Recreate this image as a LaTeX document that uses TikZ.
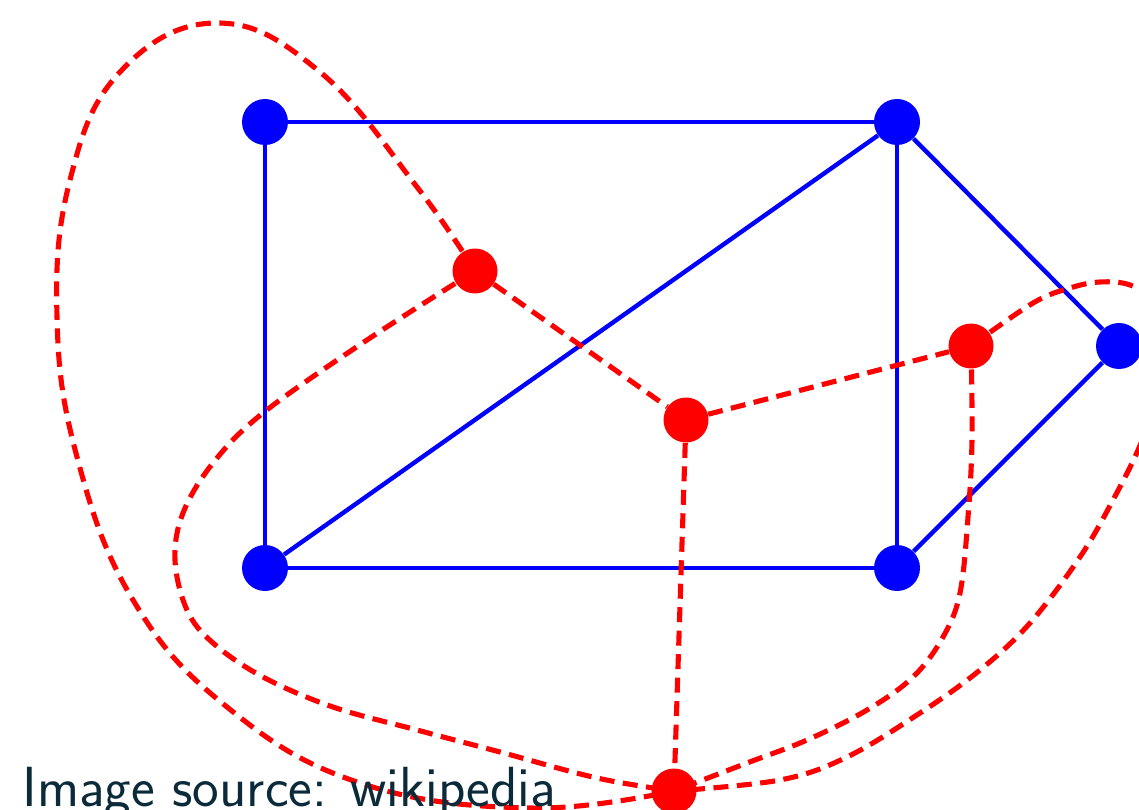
\documentclass[tikz,border=0pt]{standalone}
\usetikzlibrary{backgrounds}
\definecolor{dualGraphNoteColor}{HTML}{0B2A3A}
\begin{document}
\begin{tikzpicture}[
    x=0.02cm, y=-0.02cm,
    dualGraphVertex/.style={circle, fill=blue, inner sep=0pt, minimum size=0.92cm},
    dualGraphEdge/.style={blue, line width=2.5pt},
    dualGraphDualVertex/.style={circle, fill=red, inner sep=0pt, minimum size=0.9cm},
    dualGraphDualEdge/.style={red, line width=2.9pt, dash pattern=on 0.3cm off 0.17cm},
    dualGraphNote/.style={dualGraphNoteColor, anchor=base west, inner sep=0pt,
        font=\sffamily\fontsize{32.2}{38}\selectfont}
]
    \useasboundingbox (0,0) rectangle (1139,810);
    \clip (0,0) rectangle (1139,810);

    % 原图顶点
    \node[dualGraphVertex] (b1) at (265,122) {};
    \node[dualGraphVertex] (b2) at (897,122) {};
    \node[dualGraphVertex] (b3) at (265,568) {};
    \node[dualGraphVertex] (b4) at (897,568) {};
    \node[dualGraphVertex] (b5) at (1119,346) {};

    % 对偶图顶点
    \node[dualGraphDualVertex] (r1) at (475,271) {};
    \node[dualGraphDualVertex] (r2) at (686,420) {};
    \node[dualGraphDualVertex] (r3) at (971,346) {};
    \node[dualGraphDualVertex] (r4) at (674,791) {};

    \begin{scope}[on background layer]
        % 原图的边
        \draw[dualGraphEdge] (b1) -- (b2);
        \draw[dualGraphEdge] (b1) -- (b3);
        \draw[dualGraphEdge] (b3) -- (b4);
        \draw[dualGraphEdge] (b2) -- (b4);
        \draw[dualGraphEdge] (b3) -- (b2);
        \draw[dualGraphEdge] (b2) -- (b5);
        \draw[dualGraphEdge] (b5) -- (b4);

        % 对偶图的边
        \draw[dualGraphDualEdge] (r1) -- (r2);
        \draw[dualGraphDualEdge] (r2) -- (r3);
        \draw[dualGraphDualEdge] (r2) -- (r4);
        \draw[dualGraphDualEdge] plot[smooth, tension=0.7] coordinates {
            (r1.center) (417,187) (320,72) (217,23) (120,72) (70,180) (57,317)
            (77,457) (133,600) (227,707) (360,783) (530,808) (r4.center)};
        \draw[dualGraphDualEdge] plot[smooth, tension=0.6] coordinates {
            (r1.center) (367,340) (263,413) (213,463) (183,513) (175,560)
            (187,610) (213,643) (263,677) (333,707) (417,730) (500,752)
            (597,778) (r4.center)};
        \draw[dualGraphDualEdge] plot[smooth, tension=0.6] coordinates {
            (r3.center) (972,440) (968,517) (960,593) (943,637) (913,677)
            (867,710) (807,740) (747,763) (r4.center)};
        \draw[dualGraphDualEdge] plot[smooth, tension=0.6] coordinates {
            (r3.center) (1033,303) (1070,288) (1100,282) (1130,285) (1156,302)
            (1163,340) (1155,395) (1141,443) (1113,500) (1080,557) (1030,623)
            (980,670) (920,713) (847,757) (780,780) (r4.center)};
    \end{scope}

    \node[dualGraphNote] (note) at (22,806) {Image source: wikipedia};
\end{tikzpicture}
\end{document}
